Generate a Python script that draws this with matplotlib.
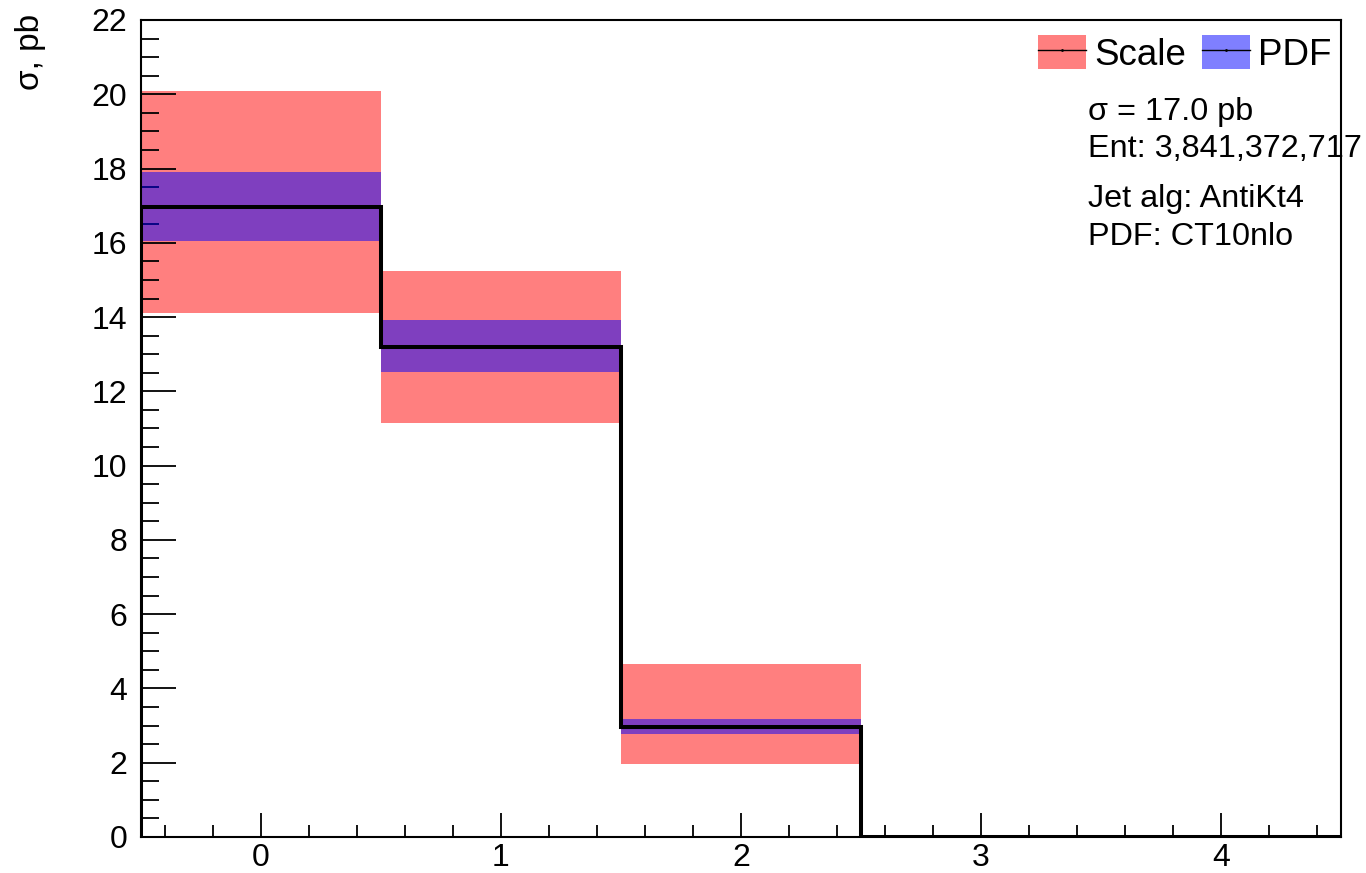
import matplotlib
matplotlib.use("Agg")
import matplotlib.pyplot as plt
import numpy as np
from matplotlib.patches import Patch
from matplotlib.lines import Line2D
from matplotlib.ticker import MultipleLocator

plt.rcParams['font.family'] = ['Liberation Sans', 'DejaVu Sans']

# bin centres and values
bins = [0, 1, 2, 3, 4]
xsec = [16.97, 13.20, 2.96, 0.0, 0.0]
scale_lo = [14.10, 11.15, 1.97, 0.0, 0.0]
scale_hi = [20.08, 15.25, 4.66, 0.0, 0.0]
pdf_lo = [16.05, 12.52, 2.77, 0.0, 0.0]
pdf_hi = [17.90, 13.93, 3.18, 0.0, 0.0]
info = ["σ = 17.0 pb", "Ent: 3,841,372,717", "Jet alg: AntiKt4", "PDF: CT10nlo"]

red = (1.0, 0.0, 0.0, 0.5)
blue = (0.0, 0.0, 1.0, 0.5)

fig = plt.figure(figsize=(13.66, 8.73), dpi=100)
ax = fig.add_axes([141/1366, 36/873, 1200/1366, 817/873])

x = np.array(bins, dtype=float)
edges = np.append(x - 0.5, x[-1] + 0.5)
ax.bar(x, np.subtract(scale_hi, scale_lo), bottom=scale_lo, width=1.0,
       color=red, edgecolor='none', zorder=1)
ax.bar(x, np.subtract(pdf_hi, pdf_lo), bottom=pdf_lo, width=1.0,
       color=blue, edgecolor='none', zorder=2)
ax.stairs(xsec, edges, baseline=0, color='black', lw=2.9, zorder=3)

ax.set_xlim(-0.5, 4.5)
ax.set_ylim(0, 22)
ax.xaxis.set_major_locator(MultipleLocator(1))
ax.xaxis.set_minor_locator(MultipleLocator(0.2))
ax.yaxis.set_major_locator(MultipleLocator(2))
ax.yaxis.set_minor_locator(MultipleLocator(0.5))
ax.tick_params(axis='both', which='both', direction='in', width=1.3,
               labelsize=23, top=False, right=False)
ax.tick_params(axis='y', which='major', length=25, pad=10)
ax.tick_params(axis='y', which='minor', length=13)
ax.tick_params(axis='x', which='major', length=17, pad=4)
ax.tick_params(axis='x', which='minor', length=8.5)
for s in ax.spines.values():
    s.set_linewidth(1.5)

fig.text(30/1366, 1 - 14/873, "σ, pb", rotation=90, ha='center', va='top',
         fontsize=24)

handles = [(Patch(facecolor=red, edgecolor='none'),
            Line2D([], [], color='black', lw=1, marker='.', ms=2)),
           (Patch(facecolor=blue, edgecolor='none'),
            Line2D([], [], color='black', lw=1, marker='.', ms=2))]
fig.legend(handles, ["Scale", "PDF"], ncol=2, loc='upper left',
           bbox_to_anchor=(1038/1366, 1 - 35/873), frameon=False,
           fontsize=26.5, handlelength=1.3, handleheight=1.05,
           handletextpad=0.22, columnspacing=0.45, borderpad=0,
           borderaxespad=0)

ys = [112, 149, 199, 237]
for t, yy in zip(info, ys):
    fig.text(1088/1366, 1 - yy/873, t, ha='left', va='center', fontsize=23.3)

fig.savefig("out.png", dpi=100)
